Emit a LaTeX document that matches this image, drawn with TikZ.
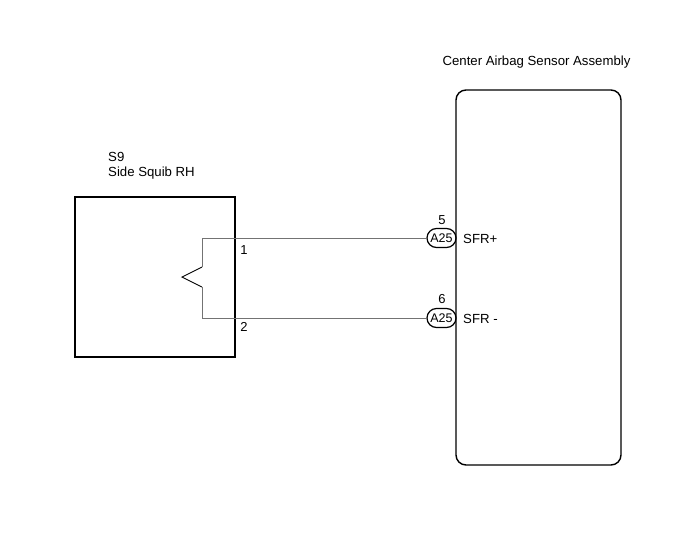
\documentclass[tikz,border=0pt]{standalone}
\usepackage{fontspec}
\setmainfont{Liberation Sans}
\begin{document}
\begin{tikzpicture}[x=1pt,y=-1pt,
  box/.style={draw=black,line width=1.4pt},
  wire/.style={draw=black!55,line width=1pt},
  squib/.style={draw=black,line width=0.9pt},
  lbl/.style={inner sep=0pt,font=\fontsize{13.2}{15}\selectfont},
  pin/.style={inner sep=0pt,font=\fontsize{13}{15}\selectfont},
  conn/.style={draw=black,line width=1.2pt,rounded corners=9.5pt,minimum width=29pt,minimum height=19pt,inner sep=0pt,font=\fontsize{12.5}{14}\selectfont}]
\useasboundingbox (0,0) rectangle (691,555);
% right module
\node[box,rounded corners=10pt,minimum width=165pt,minimum height=375pt,inner sep=0pt] (ecu) at (538.5,277.5) {};
\node[lbl] (ecutitle) at (536.5,62) {Center Airbag Sensor Assembly};
% left squib
\node[box,minimum width=160pt,minimum height=160pt,inner sep=0pt] (sq) at (155,277) {};
\node[lbl,anchor=west] (s9) at (108,157) {S9};
\node[lbl,anchor=west] (s9name) at (108,173) {Side Squib RH};
% connectors
\node[conn] (c5) at (441.5,238) {A25};
\node[conn] (c6) at (441.5,318) {A25};
\node[pin] (n5) at (442,220) {5};
\node[pin] (n6) at (442,299) {6};
\node[lbl,anchor=west] (sfrp) at (463,239) {SFR+};
\node[lbl,anchor=west] (sfrm) at (463,319) {SFR -};
\node[pin] (p1) at (244,250) {1};
\node[pin] (p2) at (244,327) {2};
% squib wiring
\coordinate (t1) at (202,238);
\coordinate (z1) at (202,267);
\coordinate (z2) at (182,277);
\coordinate (z3) at (202,287);
\coordinate (b1) at (202,318);
\draw[wire] (c5.west) -- (t1) -- (z1);
\draw[wire] (z3) -- (b1) -- (c6.west);
\draw[squib] (z1) -- (z2) -- (z3);
\end{tikzpicture}
\end{document}
